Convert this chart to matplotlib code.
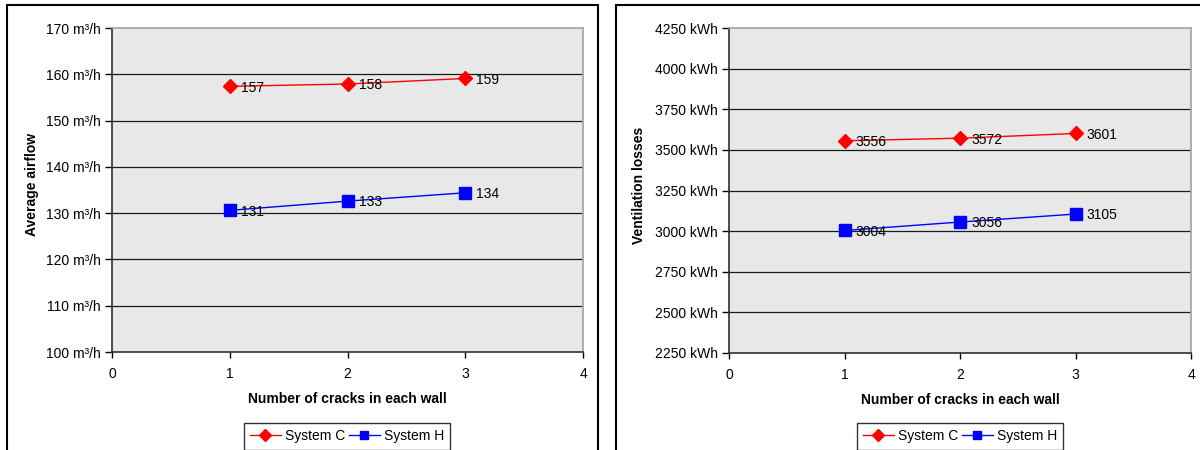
import matplotlib
matplotlib.use('Agg')
import matplotlib.pyplot as plt
from matplotlib.patches import Rectangle

# data
cracks = [1, 2, 3]
airflow_c = [157.4, 157.9, 159.1]
airflow_h = [130.6, 132.6, 134.4]
losses_c = [3556, 3572, 3601]
losses_h = [3004, 3056, 3105]
series_names = ['System C', 'System H']

plt.rcParams['font.family'] = ['Liberation Sans', 'DejaVu Sans']
plt.rcParams['font.size'] = 10

W, H = 1200, 450
fig = plt.figure(figsize=(12, 4.5), dpi=100)

def px_axes(x0, x1, y0, y1):
    # pixel box (top-left origin) -> figure fraction
    return fig.add_axes([x0 / W, (H - y1) / H, (x1 - x0) / W, (y1 - y0) / H])

def style(ax, ymin, ymax, ystep, fmt):
    ax.set_facecolor('#E8E8E8')
    ax.set_xlim(0, 4)
    ax.set_ylim(ymin, ymax)
    ax.set_xticks(range(0, 5))
    ax.set_yticks(range(ymin, ymax + 1, ystep))
    ax.set_yticklabels([fmt.format(v) for v in range(ymin, ymax + 1, ystep)])
    for v in range(ymin + ystep, ymax, ystep):
        ax.axhline(v, color='#1a1a1a', lw=0.9, zorder=1)
    for s in ['top', 'right']:
        ax.spines[s].set_color('#a0a0a0')
        ax.spines[s].set_linewidth(1.2)
    for s in ['left', 'bottom']:
        ax.spines[s].set_color('#303030')
        ax.spines[s].set_linewidth(1.2)
    ax.tick_params(axis='y', direction='out', length=5, width=1, pad=3)
    ax.tick_params(axis='x', direction='out', length=4, width=1, pad=7)

def draw(ax, yc, yh):
    ax.plot(cracks, yc, '-', color='#FF0000', lw=1, marker='D', ms=7.5,
            mec='#FF0000', mfc='#FF0000', label=series_names[0], zorder=3)
    ax.plot(cracks, yh, '-', color='#0000FF', lw=1, marker='s', ms=8,
            mec='#0000FF', mfc='#0000FF', label=series_names[1], zorder=3)
    for x, y in zip(cracks, yc):
        ax.annotate('{:.0f}'.format(y), (x, y), xytext=(8, -1), textcoords='offset points',
                    va='center', ha='left', fontsize=10, zorder=4)
    for x, y in zip(cracks, yh):
        ax.annotate('{:.0f}'.format(y), (x, y), xytext=(8, -1), textcoords='offset points',
                    va='center', ha='left', fontsize=10, zorder=4)

# panel frames
fig.patches.append(Rectangle((7 / W, -0.05), (598 - 7) / W, (H - 5) / H + 0.05,
                             transform=fig.transFigure, fill=False, ec='black', lw=1.5))
fig.patches.append(Rectangle((616 / W, -0.05), (1210 - 616) / W, (H - 5) / H + 0.05,
                             transform=fig.transFigure, fill=False, ec='black', lw=1.5))

ax1 = px_axes(112, 583, 28, 352)
style(ax1, 100, 170, 10, '{} m³/h')
draw(ax1, airflow_c, airflow_h)
ax1.set_xlabel('Number of cracks in each wall', fontweight='bold', labelpad=8)
fig.text(32 / W, 1 - 185 / H, 'Average airflow', rotation=90, ha='center', va='center',
         fontweight='bold')

ax2 = px_axes(729, 1191, 28, 353)
style(ax2, 2250, 4250, 250, '{} kWh')
draw(ax2, losses_c, losses_h)
ax2.set_xlabel('Number of cracks in each wall', fontweight='bold', labelpad=8)
fig.text(639 / W, 1 - 185 / H, 'Ventilation losses', rotation=90, ha='center', va='center',
         fontweight='bold')

for ax, cx in [(ax1, 347), (ax2, 960)]:
    leg = ax.legend(loc='upper center', bbox_to_anchor=(cx / W, 1 - 423 / H),
                    bbox_transform=fig.transFigure, ncol=2, frameon=True, fancybox=False,
                    handlelength=2.2, handletextpad=0.3, columnspacing=0.3, borderpad=0.45,
                    borderaxespad=0, markerscale=0.75, fontsize=10)
    leg.get_frame().set_edgecolor('black')
    leg.get_frame().set_linewidth(1)

fig.savefig('out.png', dpi=100)
